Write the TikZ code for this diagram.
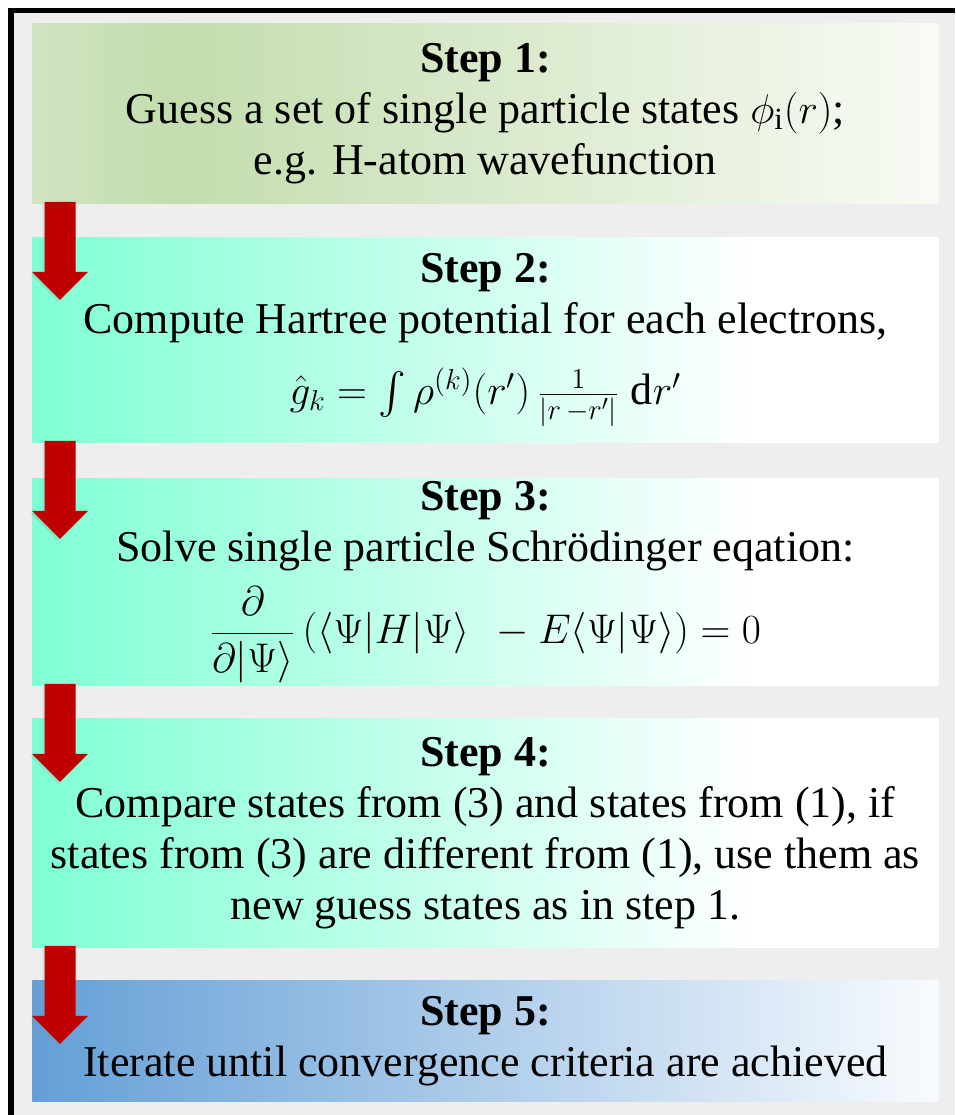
\documentclass[tikz,border=0pt]{standalone}
\usepackage{amsmath}
\usepackage{fontspec}
\setmainfont{Liberation Serif}
\usetikzlibrary{calc,shadows}
\definecolor{panelgray}{HTML}{EEEEEE}
\definecolor{arrowred}{HTML}{C00000}
\definecolor{greenL}{HTML}{CFE4C1}
\definecolor{greenM}{HTML}{C3DDAE}
\definecolor{greenR}{HTML}{F8FBF5}
\definecolor{aquaL}{HTML}{7FFFD6}
\definecolor{blueL}{HTML}{649FD6}
\definecolor{blueR}{HTML}{F8FBFE}
\pgfdeclarehorizontalshading{greenfade}{100bp}{color(0bp)=(greenL); color(25bp)=(greenL); color(33bp)=(greenM); color(75bp)=(greenR); color(100bp)=(greenR)}
\pgfdeclarehorizontalshading{aquafade}{100bp}{color(0bp)=(aquaL); color(25bp)=(aquaL); color(65bp)=(white); color(100bp)=(white)}
\pgfdeclarehorizontalshading{bluefade}{100bp}{color(0bp)=(blueL); color(25bp)=(blueL); color(75bp)=(blueR); color(100bp)=(blueR)}

\begin{document}
\begin{tikzpicture}[x=0.5pt, y=-0.5pt,
    stepbox/.style={anchor=north west, minimum width=453pt, inner sep=0pt, align=center,
      shade, shading angle=0, font=\fontsize{22}{25.5}\selectfont},
    downarrow/.style={fill=arrowred, drop shadow={shadow xshift=-1pt, shadow yshift=-1pt, opacity=.18}}]
  \useasboundingbox (0,0) rectangle (955,1115);
  \fill[white] (0,0) rectangle (955,1115);
  \fill[panelgray] (8,8) rectangle (955,1115);
  \fill[black] (8,8) rectangle (955,13);
  \fill[black] (8,8) rectangle (14,1115);

  \node[stepbox, shading=greenfade, minimum height=90pt] (s1) at (32,23)
    {\textbf{Step 1:}\\ Guess a set of single particle states $\phi_{\mathrm{i}}(r)$;\\ e.g. H-atom wavefunction};
  \node[stepbox, shading=aquafade, minimum height=102.5pt] (s2) at (32,237)
    {\textbf{Step 2:}\\ Compute Hartree potential for each electrons,\\[10pt]
     $\hat{g}_k = \int\rho^{(k)}(r')\,\frac{1}{|r\,-r'|}\;\mathrm{d}r'$};
  \node[stepbox, shading=aquafade, minimum height=103.5pt] (s3) at (32,478)
    {\textbf{Step 3:}\\ Solve single particle Schrödinger eqation:\\[7pt]
     $\dfrac{\partial}{\partial|\Psi\rangle}\,(\langle\Psi|H|\Psi\rangle\;\, - E\langle\Psi|\Psi\rangle) = 0$};
  \node[stepbox, shading=aquafade, minimum height=114.5pt] (s4) at (32,718)
    {\textbf{Step 4:}\\ Compare states from (3) and states from (1), if\\ states from (3) are different from (1), use them as\\ new guess states as in step 1.};
  \node[stepbox, shading=bluefade, minimum height=60.5pt] (s5) at (32,980)
    {\textbf{Step 5:}\\ Iterate until convergence criteria are achieved};

  \foreach \a in {s1,s2,s3,s4}
    \fill[downarrow] ($(\a.south west)+(12.5,-2)$) -- ++(31,0) -- ++(0,70) -- ++(12.5,0)
      -- ++(-28,28) -- ++(-28,-28) -- ++(12.5,0) -- cycle;
\end{tikzpicture}
\end{document}
